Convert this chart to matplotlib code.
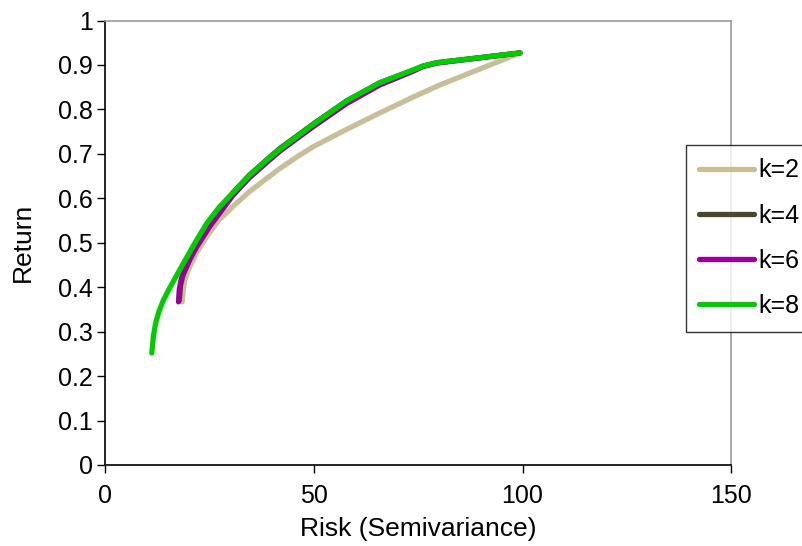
import matplotlib
matplotlib.use("Agg")
import matplotlib.pyplot as plt

# Data
k2_x = [18.4, 18.6, 19.0, 19.6, 20.3, 22.0, 24.3, 27.0, 30.6, 34.5, 38.7, 41.8, 45.9, 49.8, 57.8, 65.8, 73.8, 80.2, 99.4]
k2_y = [0.367, 0.390, 0.415, 0.432, 0.448, 0.480, 0.514, 0.549, 0.582, 0.615, 0.645, 0.667, 0.693, 0.716, 0.755, 0.792, 0.828, 0.855, 0.927]

k4_x = [17.7, 18.0, 18.6, 19.5, 21.5, 25.0, 30.6, 34.5, 38.7, 41.8, 49.8, 57.8, 65.8, 73.8, 76.0, 79.4, 99.4]
k4_y = [0.370, 0.405, 0.428, 0.447, 0.490, 0.543, 0.613, 0.652, 0.687, 0.712, 0.767, 0.819, 0.860, 0.888, 0.897, 0.905, 0.927]

k6_x = [17.5, 17.7, 18.2, 19.0, 20.2, 21.9, 25.1, 30.6, 34.5, 38.7, 41.8, 49.8, 57.8, 65.8, 73.8, 76.0, 79.4, 99.4]
k6_y = [0.367, 0.395, 0.420, 0.438, 0.462, 0.491, 0.538, 0.607, 0.646, 0.681, 0.706, 0.761, 0.813, 0.855, 0.886, 0.896, 0.904, 0.927]

k8_x = [11.1, 11.5, 12.0, 12.8, 13.9, 15.2, 16.8, 18.7, 21.3, 24.3, 27.3, 30.6, 34.5, 38.7, 41.8, 49.8, 57.8, 65.8, 73.8, 76.0, 79.4, 99.4]
k8_y = [0.252, 0.290, 0.318, 0.345, 0.371, 0.395, 0.422, 0.454, 0.497, 0.544, 0.580, 0.613, 0.651, 0.686, 0.710, 0.766, 0.819, 0.860, 0.889, 0.897, 0.905, 0.927]

series_labels = ["k=2", "k=4", "k=6", "k=8"]
series_colors = ["#C8BF9A", "#4B4630", "#990099", "#00CC00"]

x_ticks = [0, 50, 100, 150]
y_ticks = [0, 0.1, 0.2, 0.3, 0.4, 0.5, 0.6, 0.7, 0.8, 0.9, 1.0]
y_tick_labels = ["0", "0.1", "0.2", "0.3", "0.4", "0.5", "0.6", "0.7", "0.8", "0.9", "1"]

plt.rcParams['font.family'] = ['Liberation Sans', 'DejaVu Sans']
FS = 18

fig = plt.figure(figsize=(8.03, 5.46), dpi=100)
ax = fig.add_axes([105.5/803, 1-465/546, (731-105.5)/803, (465-20.5)/546])

xs = [k2_x, k4_x, k6_x, k8_x]
ys = [k2_y, k4_y, k6_y, k8_y]
for x, y, lab, c in zip(xs, ys, series_labels, series_colors):
    ax.plot(x, y, color=c, lw=3.8, label=lab, solid_capstyle='round', solid_joinstyle='round')

ax.set_xlim(0, 150)
ax.set_ylim(0, 1)
ax.set_xticks(x_ticks)
ax.set_xticklabels([str(t) for t in x_ticks])
ax.set_yticks(y_ticks)
ax.set_yticklabels(y_tick_labels)
ax.tick_params(axis='both', labelsize=FS, direction='out', length=6, width=1, colors='#000000')
ax.tick_params(axis='x', pad=8)
ax.tick_params(axis='y', pad=3)
for side in ['left', 'bottom']:
    ax.spines[side].set_color('#000000')
    ax.spines[side].set_linewidth(1.2)
for side in ['top', 'right']:
    ax.spines[side].set_color('#999999')
    ax.spines[side].set_linewidth(1.2)

ax.set_xlabel("Risk (Semivariance)", fontsize=FS + 1, labelpad=6)
ax.set_ylabel("Return", fontsize=FS + 1, labelpad=17)

leg = ax.legend(loc='upper left', bbox_to_anchor=(686/803, 1-145/546), bbox_transform=fig.transFigure,
                fontsize=FS, frameon=True, fancybox=False, edgecolor='#000000',
                handlelength=2.2, handletextpad=0.16, labelspacing=0.85, borderpad=0.54, borderaxespad=0)
leg.get_frame().set_linewidth(1.0)
for h in leg.get_lines():
    h.set_linewidth(3.8)

fig.savefig("out.png", dpi=100)
